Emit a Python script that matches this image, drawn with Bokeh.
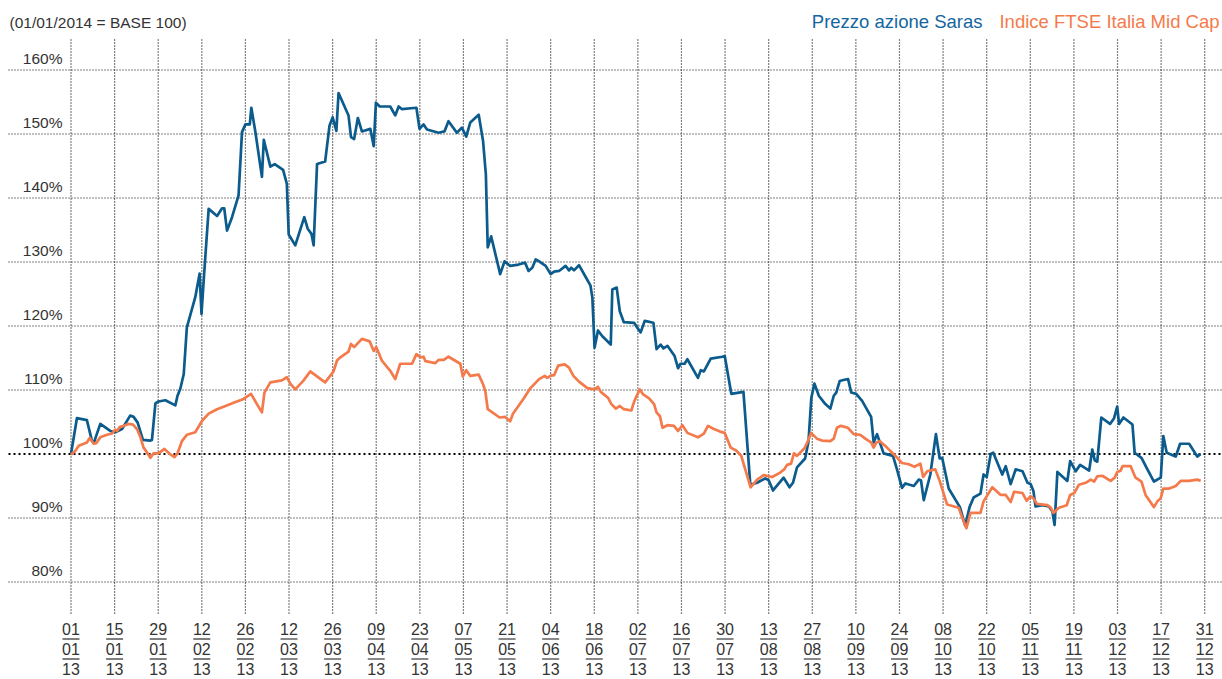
from datetime import date, timedelta
from bokeh.plotting import figure
from bokeh.core.properties import value
from bokeh.embed import file_html
from bokeh.resources import INLINE

# ---------------- data ----------------
# days since 01/01/13, value indexed to 100
saras_day = [0, 1.9, 5.1, 6.7, 7.3, 9.4, 12.6, 14.2, 16.4, 19.0, 20.1, 21.4, 23.1, 25.5, 26.0,
             27.1, 28.1, 30.3, 33.5, 34.2, 35.1, 36.2, 37.2, 39.9, 41.3, 41.9, 42.6, 44.2, 46.9,
             48.5, 49.2, 50.1, 51.7, 53.8, 54.9, 56.0, 57.4, 57.9, 59.2, 61.3, 61.9, 64.0, 65.4,
             68.1, 69.3, 69.9, 72.0, 74.9, 76.0, 77.2, 77.9, 79.0, 81.6, 83.0, 84.0, 85.2, 85.9,
             89.1, 89.9, 90.9, 92.1, 93.4, 96.1, 97.2, 97.9, 99.1, 102.5, 104.1, 105.2, 106.2,
             110.9, 111.9, 113.2, 114.3, 118.0, 119.9, 121.2, 123.9, 125.5, 126.9, 128.2, 130.9,
             132.3, 133.2, 133.8, 134.9, 137.8, 139.2, 141.0, 143.7, 145.8, 146.9, 148.1, 149.2,
             150.3, 152.4, 154.0, 155.1, 156.7, 158.8, 159.9, 160.6, 161.5, 163.1, 165.2, 166.8,
             167.4, 168.1, 169.2, 170.6, 173.3, 173.8, 175.2, 176.2, 177.5, 180.8, 182.0, 182.9,
             184.2, 187.0, 188.0, 189.3, 190.2, 191.5, 193.8, 194.9, 195.7, 197.0, 197.9, 201.3,
             202.2, 203.2, 205.4, 209.1, 209.9, 212.0, 215.9, 218.1, 220.3, 222.9, 224.0, 225.4,
             228.8, 230.7, 231.8, 233.1, 235.7, 236.8, 237.7, 238.7, 240.1, 242.2, 243.8, 244.9,
             245.7, 246.8, 248.3, 249.5, 250.5, 252.1, 254.0, 256.9, 257.7, 258.8, 260.9, 263.9,
             265.2, 266.8, 267.9, 270.6, 272.2, 272.9, 273.8, 275.9, 277.7, 278.9, 279.7, 281.8,
             285.4, 287.1, 288.5, 289.8, 292.0, 293.0, 294.0, 295.3, 296.1, 299.0, 300.1, 301.7,
             303.3, 305.5, 307.1, 308.1, 309.0, 309.7, 311.9, 314.0, 315.1, 315.8, 316.7, 319.9,
             320.8, 322.6, 324.0, 326.9, 327.9, 328.7, 329.5, 330.8, 333.6, 334.9, 335.9, 336.5,
             337.9, 340.8, 341.5, 343.7, 345.6, 347.7, 349.9, 350.7, 351.8, 354.7, 356.1, 359.0,
             361.6, 362.7]
saras_val = [100.0, 105.6, 105.3, 102.1, 101.7, 104.7, 103.6, 103.4, 103.9, 106.0, 105.8, 104.9,
             102.2, 102.1, 102.2, 107.9, 108.2, 108.4, 107.6, 109.1, 110.2, 112.5, 119.8, 124.5,
             128.2, 121.9, 127.1, 138.3, 137.2, 138.4, 138.4, 134.9, 137.0, 140.4, 150.3, 151.5,
             151.5, 154.1, 150.3, 143.3, 149.1, 144.9, 145.3, 144.4, 142.2, 134.3, 132.6, 137.0,
             135.2, 134.4, 132.6, 145.3, 145.7, 151.3, 152.6, 150.5, 156.4, 152.9, 149.5, 149.2,
             152.5, 150.4, 150.8, 148.1, 154.9, 154.3, 154.3, 152.9, 154.3, 153.9, 154.1, 150.8,
             151.5, 150.7, 150.2, 150.4, 152.0, 150.2, 151.0, 149.6, 151.8, 153.0, 148.9, 143.7,
             132.3, 134.0, 128.1, 130.1, 129.4, 129.6, 129.9, 128.6, 129.1, 130.4, 130.1, 129.4,
             128.1, 128.5, 128.6, 129.4, 128.7, 129.1, 128.7, 129.5, 127.7, 126.3, 124.4, 116.6,
             119.3, 118.4, 117.1, 125.7, 126.0, 122.3, 120.6, 120.5, 119.6, 119.0, 120.8, 120.5,
             116.4, 117.1, 116.5, 116.9, 115.3, 113.4, 114.1, 114.1, 114.8, 111.9, 113.1, 112.9,
             114.9, 115.2, 115.3, 109.4, 109.7, 95.2, 95.5, 96.2, 95.9, 94.3, 96.3, 94.8, 95.5,
             97.9, 99.3, 102.0, 108.8, 111.0, 109.1, 107.8, 107.1, 109.1, 109.6, 111.4, 111.6,
             111.7, 109.6, 109.4, 108.3, 105.8, 101.8, 103.1, 100.1, 99.7, 97.6, 94.7, 95.4, 95.0,
             96.0, 95.9, 92.8, 96.8, 103.1, 99.3, 99.4, 94.6, 91.7, 88.8, 91.7, 93.2, 93.8, 96.8,
             96.4, 100.0, 100.2, 96.8, 98.1, 95.3, 97.6, 97.3, 95.5, 95.3, 94.2, 91.8, 92.0, 91.8,
             91.0, 88.9, 97.2, 95.8, 98.9, 97.3, 98.3, 97.4, 100.7, 99.0, 98.8, 105.7, 104.7,
             105.6, 107.4, 104.7, 105.7, 104.6, 100.2, 99.4, 97.6, 95.7, 96.3, 102.8, 100.2, 99.6,
             101.6, 101.6, 99.6, 100.0]

ftse_day = [0, 1.4, 2.5, 5.1, 6.0, 7.3, 8.1, 9.4, 11.6, 13.2, 14.2, 14.8, 15.6, 16.9, 18.5, 19.9,
            21.2, 22.3, 23.3, 24.2, 25.5, 26.5, 28.1, 30.0, 31.7, 33.2, 34.2, 35.6, 37.2, 39.9,
            42.1, 44.2, 46.9, 49.0, 52.2, 55.4, 57.8, 59.7, 61.3, 62.1, 64.0, 67.7, 69.3, 70.4,
            72.0, 74.7, 76.8, 81.6, 84.3, 85.4, 86.5, 89.1, 89.9, 90.9, 93.4, 95.9, 97.2, 98.0,
            99.8, 102.5, 104.1, 105.7, 109.5, 110.9, 112.2, 113.2, 113.8, 117.0, 118.0, 119.7,
            121.2, 125.0, 125.8, 126.9, 128.2, 130.9, 132.3, 133.0, 133.8, 137.6, 139.4, 141.0,
            141.9, 145.4, 147.5, 150.3, 152.1, 152.9, 154.2, 155.1, 156.4, 158.5, 159.9, 161.3,
            163.1, 165.8, 168.1, 169.2, 170.1, 172.4, 173.5, 174.9, 176.2, 177.5, 179.9, 180.9,
            182.6, 183.7, 185.6, 187.2, 188.0, 189.1, 189.9, 191.5, 193.6, 194.9, 196.3, 197.9,
            201.3, 203.2, 204.5, 206.4, 208.4, 209.9, 211.8, 213.7, 215.2, 218.2, 220.3, 222.4,
            225.1, 227.7, 229.0, 229.9, 231.2, 232.1, 233.1, 235.5, 236.6, 237.6, 239.5, 241.1,
            243.8, 244.9, 245.9, 247.2, 249.4, 251.3, 253.4, 255.0, 256.9, 257.7, 258.6, 259.7,
            262.0, 264.7, 266.8, 269.0, 270.8, 272.7, 273.6, 274.9, 277.5, 278.9, 281.3, 285.0,
            286.1, 287.5, 288.8, 292.0, 293.0, 295.8, 298.5, 300.1, 301.7, 302.8, 305.5, 306.8,
            308.1, 309.2, 310.1, 313.5, 314.6, 315.4, 317.2, 319.7, 320.8, 322.1, 323.6, 325.8,
            327.4, 328.5, 329.5, 331.1, 333.8, 335.1, 335.9, 337.0, 337.6, 340.2, 341.8, 343.7,
            345.0, 347.7, 348.8, 349.9, 350.7, 352.6, 354.7, 356.3, 359.0, 361.6, 362.7]
ftse_val = [99.9, 100.5, 101.3, 101.8, 102.5, 101.6, 101.7, 102.6, 103.0, 103.2, 103.8, 103.6,
            104.2, 104.4, 104.7, 104.6, 103.9, 102.6, 101.0, 100.4, 99.4, 100.1, 100.1, 100.8,
            100.0, 99.5, 100.1, 102.0, 103.0, 103.4, 105.2, 106.3, 107.0, 107.4, 108.0, 108.6,
            109.4, 107.8, 106.5, 109.6, 111.2, 111.5, 112.0, 111.0, 110.1, 111.5, 112.9, 111.2,
            112.9, 114.6, 115.1, 116.0, 117.2, 116.7, 118.0, 117.6, 116.1, 116.7, 114.6, 113.0,
            111.7, 114.1, 114.1, 115.6, 115.1, 115.2, 114.5, 114.2, 114.7, 114.7, 115.2, 114.1,
            112.1, 113.1, 112.2, 112.4, 110.9, 109.9, 107.0, 105.7, 105.8, 105.1, 106.3, 108.7,
            110.3, 111.7, 112.2, 111.9, 112.3, 112.3, 113.8, 114.0, 113.5, 112.2, 111.3, 110.3,
            110.1, 110.5, 109.7, 108.8, 107.8, 107.1, 107.5, 107.0, 106.8, 108.3, 110.1, 109.3,
            108.7, 107.8, 106.5, 105.9, 104.1, 104.5, 104.4, 103.6, 104.5, 103.3, 102.6, 103.2,
            104.4, 103.9, 103.5, 103.3, 101.0, 100.5, 99.7, 94.8, 96.0, 96.7, 96.4, 97.1, 97.6,
            98.3, 98.5, 100.1, 99.7, 100.9, 102.0, 103.3, 102.4, 102.1, 102.0, 102.4, 104.1,
            104.4, 104.1, 103.1, 103.0, 102.4, 101.8, 101.0, 101.8, 102.0, 101.0, 99.7, 98.6,
            98.4, 98.0, 98.5, 96.4, 97.3, 97.6, 95.8, 92.1, 91.6, 90.1, 88.4, 90.8, 90.8, 92.6,
            94.8, 93.6, 93.6, 92.5, 94.1, 93.9, 92.7, 93.4, 93.0, 92.2, 92.0, 91.6, 90.8, 91.6,
            92.0, 93.6, 93.9, 95.2, 95.5, 96.0, 95.7, 96.5, 96.6, 95.8, 96.3, 97.2, 97.4, 98.1,
            98.1, 96.3, 95.7, 93.6, 91.7, 92.6, 93.1, 94.6, 94.6, 95.0, 95.8, 95.8, 96.0, 95.8]

y_ticks = [80, 90, 100, 110, 120, 130, 140, 150, 160]
y_labels = ["80%", "90%", "100%", "110%", "120%", "130%", "140%", "150%", "160%"]
tick_days = list(range(0, 365, 14))
start_date = date(2013, 1, 1)
tick_dates = [start_date + timedelta(days=d) for d in tick_days]
lbl_day = [d.strftime("%d") for d in tick_dates]
lbl_month = [d.strftime("%m") for d in tick_dates]
lbl_year = [d.strftime("%y") for d in tick_dates]

caption = "(01/01/2014 = BASE 100)"
name_saras = "Prezzo azione Saras"
name_ftse = "Indice FTSE Italia Mid Cap"

# ---------------- layout ----------------
W, H = 1222, 679
X0_PAGE = 70.5        # page x of day 0
PX_PER_DAY = 3.1146
Y100_PAGE = 453.5     # page y of the 100% line
PX_PER_PCT = 6.4


def dx(px):
    return (px - X0_PAGE) / PX_PER_DAY


def dy(py):
    return 100 + (Y100_PAGE - py) / PX_PER_PCT


BLUE = "#0b5b8d"
ORANGE = "#f47a4b"
TXT = "#333333"
FONT = value("Liberation Sans")

p = figure(width=W, height=H,
           x_range=(dx(0), dx(W)),
           y_range=(dy(H), dy(0)),
           output_backend="svg", toolbar_location=None,
           x_axis_location=None, y_axis_location=None,
           min_border=0, min_border_left=0, min_border_right=0,
           min_border_top=0, min_border_bottom=0)
p.grid.visible = False
p.outline_line_color = None
p.background_fill_color = "white"
p.border_fill_color = "white"

x_left, x_right = dx(8), dx(W)

# horizontal grid (except 100)
hg = [v for v in y_ticks if v != 100]
p.segment(x0=[x_left] * len(hg), x1=[x_right] * len(hg), y0=hg, y1=hg,
          line_color="#000000", line_width=1.2, line_dash="1 2")
# vertical grid
vg_top, vg_bot = dy(38), dy(613)
p.segment(x0=tick_days, x1=tick_days, y0=[vg_bot] * len(tick_days), y1=[vg_top] * len(tick_days),
          line_color="#000000", line_width=1.2, line_dash="1 2")
# base 100 line
p.segment(x0=[x_left], x1=[x_right], y0=[100], y1=[100],
          line_color="#000000", line_width=2.2, line_dash="2 3")

# series
p.line(saras_day, saras_val, line_color=BLUE, line_width=2.7, line_join="round")
p.line(ftse_day, ftse_val, line_color=ORANGE, line_width=2.7, line_join="round")

# y labels (centred 11.5 px above their grid line)
p.text(x=[dx(62)] * len(y_ticks), y=[v + 11.5 / PX_PER_PCT for v in y_ticks], text=y_labels,
       text_font=FONT, text_font_size=value("15.5px"), text_color=TXT,
       text_align="right", text_baseline="middle")

# x labels (day / month / year stacked with bars)
for lbls, py in ((lbl_day, 628.5), (lbl_month, 648.5), (lbl_year, 668)):
    p.text(x=tick_days, y=[dy(py)] * len(tick_days), text=lbls,
           text_font=FONT, text_font_size=value("16px"), text_color=TXT,
           text_align="center", text_baseline="middle")
half = 8.5 / PX_PER_DAY
for py in (638.5, 658.5):
    p.segment(x0=[d - half for d in tick_days], x1=[d + half for d in tick_days],
              y0=[dy(py)] * len(tick_days), y1=[dy(py)] * len(tick_days),
              line_color="#555555", line_width=1.4)

# caption and legend
p.text(x=[dx(9)], y=[dy(21.5)], text=[caption], text_font=FONT,
       text_font_size=value("15.5px"), text_color=TXT,
       text_align="left", text_baseline="middle")
p.text(x=[dx(1219)], y=[dy(20.5)], text=[name_ftse], text_font=FONT,
       text_font_size=value("18.5px"), text_color=ORANGE,
       text_align="right", text_baseline="middle")
p.text(x=[dx(982)], y=[dy(20.5)], text=[name_saras], text_font=FONT,
       text_font_size=value("18.5px"), text_color="#1466a0",
       text_align="right", text_baseline="middle")

open("out.html", "w").write(file_html(p, INLINE))
